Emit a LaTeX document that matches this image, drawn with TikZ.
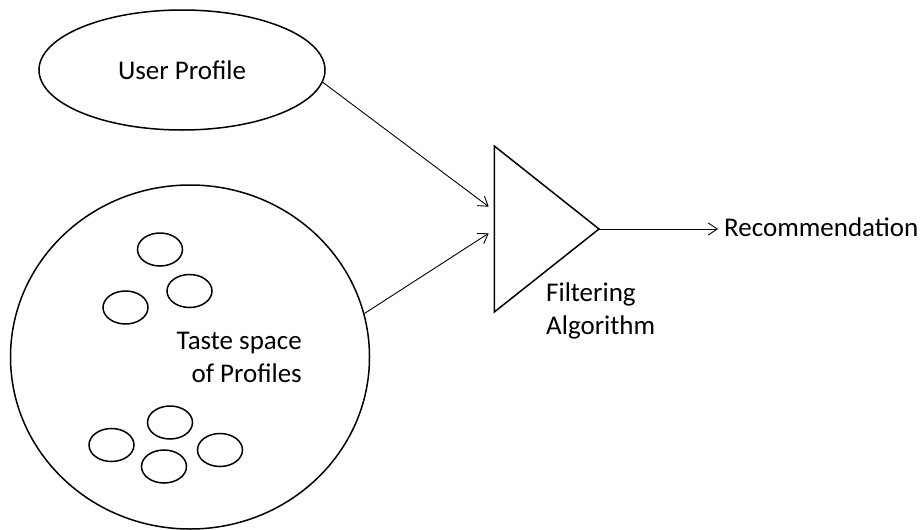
\documentclass[tikz,border=0pt]{standalone}
\usepackage{fontspec}
\setmainfont{Carlito}
\usetikzlibrary{shapes.geometric,arrows.meta}
\begin{document}
\begin{tikzpicture}[x=1pt,y=-1pt,
  shapeline/.style={draw=black,line width=1.5pt},
  oval/.style={shapeline,ellipse,inner sep=0pt},
  member/.style={oval,minimum width=45pt,minimum height=33pt},
  arr/.style={draw=black,line width=0.9pt,-{Straight Barb[length=9pt,width=12pt,line width=0.9pt]}},
  lbl/.style={inner sep=0pt,font=\fontsize{27}{33}\selectfont}]
  \useasboundingbox (0,0) rectangle (921,530);

  % user profile
  \node[oval,minimum width=286pt,minimum height=120pt,lbl] (up) at (182,70) {User Profile};

  % taste space with its member profiles
  \node[oval,minimum width=359pt,minimum height=344pt] (taste) at (190,357) {};
  \node[member] (m1) at (160,249.5) {};
  \node[member] (m2) at (189.5,291) {};
  \node[member] (m3) at (125.5,307.5) {};
  \node[member] (m4) at (170,422.5) {};
  \node[member] (m5) at (111.5,445) {};
  \node[member] (m6) at (220,450) {};
  \node[member] (m7) at (164,466.5) {};
  \node[lbl,align=right,anchor=east] (tasteText) at (302,357) {Taste space\\of Profiles};

  % filtering triangle
  \coordinate (ftop) at (494.3,146);
  \coordinate (fbot) at (494.3,312);
  \coordinate (apex) at (599,229);
  \draw[shapeline,line join=miter] (ftop) -- (apex) -- (fbot) -- cycle;
  \coordinate (in1) at (488.7,206.7);
  \coordinate (in2) at (488.7,233.3);
  \node[lbl,align=left,anchor=west] (filt) at (546,310.5) {Filtering\\Algorithm};

  % output
  \coordinate (out) at (718,229);
  \node[lbl,anchor=base west] (rec) at (724,236) {Recommendation};

  % connectors
  \draw[arr] (up.-5) -- (in1);
  \draw[arr] (taste.14) -- (in2);
  \draw[arr] (apex) -- (out);
\end{tikzpicture}
\end{document}
